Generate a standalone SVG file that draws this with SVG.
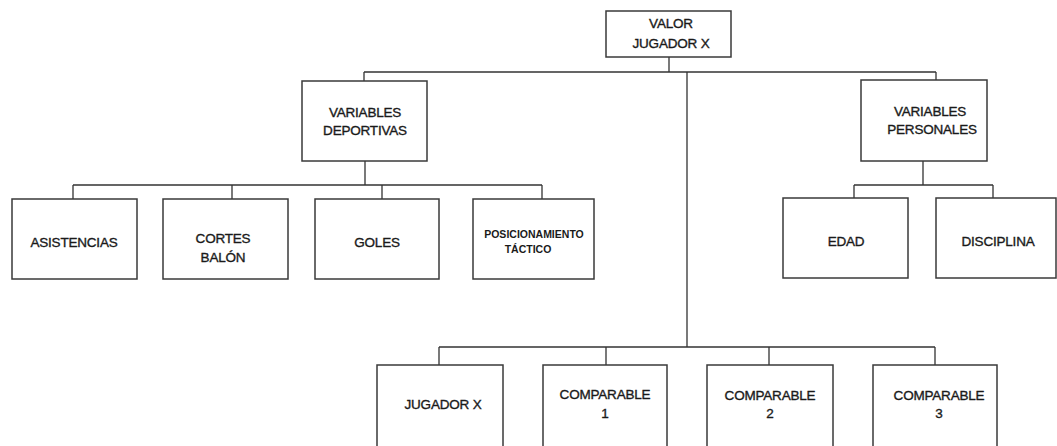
<svg xmlns="http://www.w3.org/2000/svg" width="1057" height="446" viewBox="0 0 1057 446">
<style>
.box{fill:#fff;stroke:#3a3a3a;stroke-width:1.5}
.con{fill:none;stroke:#333;stroke-width:1.3}
text{font-family:"Liberation Sans",Arial,sans-serif;font-size:13.5px;fill:#1a1a1a;stroke:#1a1a1a;stroke-width:0.35;text-anchor:middle;letter-spacing:-0.2px}
.sm{font-size:10.5px;font-weight:bold;stroke-width:0;letter-spacing:0}
</style>
<rect width="1057" height="446" fill="#fff"/>
<g id="connectors" class="con">
<path d="M669,57V72M364,72H936M687,72V347M439,347H935M439,347V365M606,347V365M769,347V365M935,347V365"/>
<path d="M364,72V81M365,161V185M73,185H542M73,185V199M232,185V199M382,185V199M542,185V199"/>
<path d="M936,72V80M923,161V185M854,185H993M854,185V198M993,185V198"/>
</g>
<g id="valor"><rect class="box" x="606" y="11" width="125" height="46"/><text x="671" y="28">VALOR</text><text x="671" y="48">JUGADOR X</text></g>
<g id="var-deportivas"><rect class="box" x="302" y="81" width="125" height="80"/><text x="365" y="117">VARIABLES</text><text x="365" y="135">DEPORTIVAS</text></g>
<g id="var-personales"><rect class="box" x="861" y="80" width="126" height="81"/><text x="930" y="116">VARIABLES</text><text x="932" y="134">PERSONALES</text></g>
<g id="asistencias"><rect class="box" x="12" y="199" width="125" height="80"/><text x="74" y="247">ASISTENCIAS</text></g>
<g id="cortes"><rect class="box" x="163" y="199" width="125" height="80"/><text x="223" y="243">CORTES</text><text x="223" y="262">BALÓN</text></g>
<g id="goles"><rect class="box" x="315" y="199" width="124" height="80"/><text x="377" y="247">GOLES</text></g>
<g id="posicionamiento"><rect class="box" x="473" y="199" width="121" height="80"/><text class="sm" x="534" y="238">POSICIONAMIENTO</text><text class="sm" x="528" y="253">TÁCTICO</text></g>
<g id="edad"><rect class="box" x="783" y="198" width="125" height="80"/><text x="846" y="246">EDAD</text></g>
<g id="disciplina"><rect class="box" x="936" y="198" width="120" height="80"/><text x="998" y="246">DISCIPLINA</text></g>
<g id="jugador"><rect class="box" x="377" y="365" width="126" height="90"/><text x="443" y="409">JUGADOR X</text></g>
<g id="comp1"><rect class="box" x="543" y="365" width="124" height="90"/><text x="605" y="399">COMPARABLE</text><text x="605" y="418">1</text></g>
<g id="comp2"><rect class="box" x="707" y="365" width="126" height="90"/><text x="770" y="400">COMPARABLE</text><text x="770" y="418">2</text></g>
<g id="comp3"><rect class="box" x="873" y="365" width="124" height="90"/><text x="939" y="400">COMPARABLE</text><text x="939" y="418">3</text></g>
</svg>
